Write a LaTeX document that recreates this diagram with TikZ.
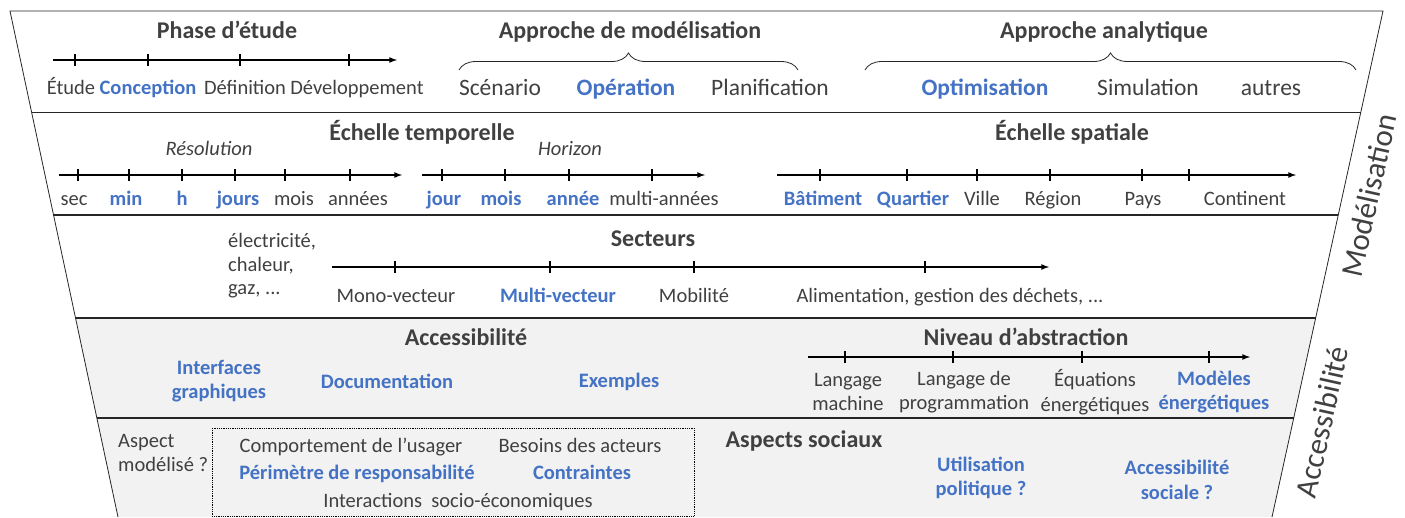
\documentclass[tikz,border=0pt]{standalone}
\usepackage{fontspec}
\setmainfont{Carlito}
\usetikzlibrary{decorations.pathreplacing}
\definecolor{txtgray}{HTML}{404040}
\definecolor{hlblue}{HTML}{4472C4}
\definecolor{bandgray}{HTML}{F2F2F2}
\definecolor{linegray}{HTML}{262626}
\tikzset{
  lbl/.style={text=txtgray,inner sep=0pt,align=center,font=\fontsize{20.5}{24.5}\selectfont},
  biglbl/.style={lbl,font=\fontsize{23.5}{28}\selectfont},
  hl/.style={lbl,text=hlblue,font=\fontsize{20.5}{24.5}\selectfont\bfseries},
  bighl/.style={lbl,text=hlblue,font=\fontsize{23.5}{28}\selectfont\bfseries},
  head/.style={lbl,font=\fontsize{24}{28}\selectfont\bfseries},
  sub/.style={lbl,font=\fontsize{20.5}{24.5}\selectfont\itshape},
  side/.style={text=txtgray,inner sep=0pt,font=\fontsize{31}{36}\selectfont,rotate=77.5},
  edge/.style={linegray,line width=0.8pt},
  sepline/.style={linegray,line width=1.6pt},
  axis/.style={->,>=latex,line width=1.6pt},
  ticks/.style={line width=1.2pt},
  brace/.style={decorate,decoration={brace,amplitude=17pt},line width=0.8pt,linegray}
}
\begin{document}
\begin{tikzpicture}[x=1pt,y=-1pt]
\useasboundingbox (0,0) rectangle (1405,517);
\coordinate (TL) at (10,11);
\coordinate (TR) at (1383,11);
\coordinate (BL) at (118,517);
\coordinate (BR) at (1272,517);

\fill[bandgray] (75.5,318) -- (1315.7,318) -- (BR) -- (BL) -- cycle;
\draw[edge] (BL) -- (TL) -- (TR) -- (BR);
\draw[sepline] (31.5,112.5) -- (1360.9,112.5);
\draw[sepline] (53.4,215) -- (1338.4,215);
\draw[sepline] (75.5,318) -- (1315.7,318);
\draw[sepline] (96.8,418) -- (1293.8,418);

\node[side] (modlab) at (1369,195) {Modélisation};
\node[side] (acclab) at (1322,422) {Accessibilité};

% Phase d'etude
\node[head,anchor=base] (phase) at (227,38) {Phase d’étude};
\coordinate (P1) at (53,60);
\coordinate (P2) at (397,60);
\draw[axis] (P1) -- (P2);
\draw[ticks] (75,54) -- (75,66) (148,54) -- (148,66) (240,54) -- (240,66) (349,54) -- (349,66);
\node[lbl,anchor=base] (etude) at (71,94) {Étude};
\node[hl,anchor=base] (concep) at (148,94) {Conception};
\node[lbl,anchor=base] (defin) at (245,94) {Définition};
\node[lbl,anchor=base] (devel) at (357,94) {Développement};

% Approches
\node[head,anchor=base] (appmod) at (630,38) {Approche de modélisation};
\coordinate (M1) at (459,70);
\coordinate (M2) at (798,70);
\draw[brace] (M1) -- (M2);
\node[biglbl,anchor=base] (scen) at (500,95) {Scénario};
\node[bighl,anchor=base] (oper) at (626,95) {Opération};
\node[biglbl,anchor=base] (planif) at (770,95) {Planification};

\node[head,anchor=base] (appana) at (1104,38) {Approche analytique};
\coordinate (N1) at (865,70);
\coordinate (N2) at (1356,70);
\draw[brace] (N1) -- (N2);
\node[bighl,anchor=base] (optim) at (985,95) {Optimisation};
\node[biglbl,anchor=base] (simul) at (1148,95) {Simulation};
\node[biglbl,anchor=base] (autres) at (1271,95) {autres};

% Echelle temporelle
\node[head,anchor=base] (echtemp) at (422,140) {Échelle temporelle};
\node[sub,anchor=base] (resol) at (209,155) {Résolution};
\node[sub,anchor=base] (horiz) at (570,155) {Horizon};
\coordinate (R1) at (59,175);
\coordinate (R2) at (402,175);
\draw[axis] (R1) -- (R2);
\draw[ticks] (78,169) -- (78,181) (129,169) -- (129,181) (182,169) -- (182,181) (235,169) -- (235,181) (285,169) -- (285,181) (350,169) -- (350,181);
\node[lbl,anchor=base] (sec) at (74,205) {sec};
\node[hl,anchor=base] (min) at (126,205) {min};
\node[hl,anchor=base] (hr) at (182,205) {h};
\node[hl,anchor=base] (jours) at (238,205) {jours};
\node[lbl,anchor=base] (mois) at (294,205) {mois};
\node[lbl,anchor=base] (annees) at (358,205) {années};
\coordinate (H1) at (422,175);
\coordinate (H2) at (705,175);
\draw[axis] (H1) -- (H2);
\draw[ticks] (442,169) -- (442,181) (505,169) -- (505,181) (569,169) -- (569,181) (652,169) -- (652,181);
\node[hl,anchor=base] (jour) at (444,205) {jour};
\node[hl,anchor=base] (moish) at (501,205) {mois};
\node[hl,anchor=base] (annee) at (573,205) {année};
\node[lbl,anchor=base] (multi) at (664,205) {multi-années};

% Echelle spatiale
\node[head,anchor=base] (echspat) at (1072,140) {Échelle spatiale};
\coordinate (S1) at (777,175);
\coordinate (S2) at (1296,175);
\draw[axis] (S1) -- (S2);
\draw[ticks] (820,169) -- (820,181) (907,169) -- (907,181) (977,169) -- (977,181) (1050,169) -- (1050,181) (1142,169) -- (1142,181) (1189,169) -- (1189,181);
\node[hl,anchor=base] (bat) at (823,205) {Bâtiment};
\node[hl,anchor=base] (quart) at (913,205) {Quartier};
\node[lbl,anchor=base] (ville) at (982,205) {Ville};
\node[lbl,anchor=base] (region) at (1053,205) {Région};
\node[lbl,anchor=base] (pays) at (1143,205) {Pays};
\node[lbl,anchor=base] (conti) at (1245,205) {Continent};

% Secteurs
\node[head,anchor=base] (secteurs) at (653,246) {Secteurs};
\node[lbl,anchor=west,align=left,font=\fontsize{20.5}{23.5}\selectfont] (vect) at (228,266) {électricité,\\chaleur,\\gaz, ...};
\coordinate (V1) at (332,267);
\coordinate (V2) at (1049,267);
\draw[axis] (V1) -- (V2);
\draw[ticks] (395,261) -- (395,273) (550,261) -- (550,273) (694,261) -- (694,273) (925,261) -- (925,273);
\node[lbl,anchor=base] (mono) at (396,302) {Mono-vecteur};
\node[hl,anchor=base] (multiv) at (558,302) {Multi-vecteur};
\node[lbl,anchor=base] (mobil) at (694,302) {Mobilité};
\node[lbl,anchor=base] (alim) at (950,302) {Alimentation, gestion des déchets, ...};

% Accessibilite
\node[head,anchor=base] (access) at (466,345) {Accessibilité};
\node[hl] (interf) at (219,381) {Interfaces\\graphiques};
\node[hl,anchor=base] (docu) at (387,388) {Documentation};
\node[hl,anchor=base] (exemp) at (619,387) {Exemples};

\node[head,anchor=base] (niveau) at (1026,345) {Niveau d’abstraction};
\coordinate (L1) at (808,357);
\coordinate (L2) at (1250,357);
\draw[axis] (L1) -- (L2);
\draw[ticks] (845,351) -- (845,363) (953,351) -- (953,363) (1082,351) -- (1082,363) (1209,351) -- (1209,363);
\node[lbl] (lmach) at (848,392) {Langage\\machine};
\node[lbl] (lprog) at (964,392) {Langage de\\programmation};
\node[lbl] (equa) at (1095,392) {Équations\\énergétiques};
\node[hl] (modeles) at (1214,392) {Modèles\\énergétiques};

% Aspects sociaux
\node[lbl,anchor=west,align=left] (aspect) at (118,453) {Aspect\\modélisé ?};
\draw[densely dotted,line width=0.8pt] (212,428) rectangle (694,516);
\node[lbl,anchor=base] (comport) at (351,452) {Comportement de l’usager};
\node[lbl,anchor=base] (besoins) at (580,452) {Besoins des acteurs};
\node[hl,anchor=base] (perim) at (357,479) {Périmètre de responsabilité};
\node[hl,anchor=base] (contr) at (582,479) {Contraintes};
\node[lbl,anchor=base] (interac) at (458,507) {Interactions\ \ socio-économiques};
\node[head,anchor=base] (sociaux) at (804,447) {Aspects sociaux};
\node[hl] (utilis) at (981,478) {Utilisation\\politique ?};
\node[hl] (accsoc) at (1177,480) {Accessibilité\\sociale ?};
\end{tikzpicture}
\end{document}
